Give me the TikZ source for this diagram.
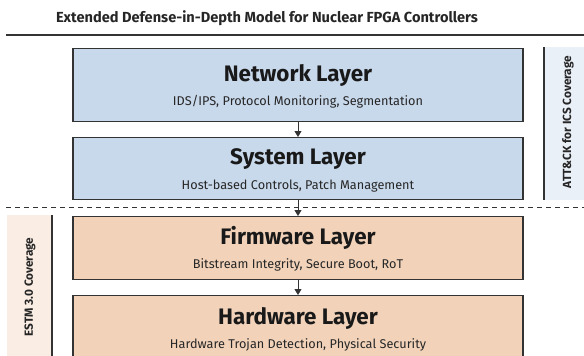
\documentclass[tikz,border=0pt]{standalone}
\usepackage{fontspec}
\setmainfont{Fira Sans}
\usetikzlibrary{arrows.meta}
\definecolor{bluefill}{HTML}{C9D9EC}
\definecolor{peachfill}{HTML}{F2D3BA}
\definecolor{edgegray}{HTML}{333333}
\definecolor{sideblue}{HTML}{EAF0F8}
\definecolor{sidepeach}{HTML}{FAEDE4}
\tikzset{
  layer/.style={draw=edgegray, line width=1.3pt, minimum width=450pt, anchor=north},
  bluelayer/.style={layer, fill=bluefill},
  peachlayer/.style={layer, fill=peachfill},
  ltitle/.style={font=\fontsize{22.4}{24}\selectfont\bfseries, text=black!90},
  lsub/.style={font=\fontsize{12.7}{14}\selectfont, text=black!85},
  flow/.style={draw=edgegray, line width=1pt, -{Triangle[length=6pt,width=7pt]}},
  sidelabel/.style={font=\fontsize{11.8}{13}\selectfont\bfseries, rotate=90, text=black!85},
}
\begin{document}
\begin{tikzpicture}[x=1pt,y=-1pt]
\useasboundingbox (0,0) rectangle (584,356);
\node[font=\fontsize{14.6}{16}\selectfont\bfseries, text=black!85] (title) at (267,18) {Extended Defense-in-Depth Model for Nuclear FPGA Controllers};
\draw[edgegray, line width=1.5pt] (6,35) coordinate (rl) -- (584,35) coordinate (rr);
% side bars
\fill[sideblue] (544,47) rectangle (590,200);
\draw[edgegray, line width=1.3pt] (544,47) coordinate (sbt) -- (544,200) coordinate (sbb);
\node[sidelabel] (att) at (568,122) {ATT\&CK for ICS Coverage};
\fill[sidepeach] (7,215) rectangle (52,362);
\draw[edgegray, line width=1.3pt] (52,215) coordinate (spt) -- (52,362) coordinate (spb);
\node[sidelabel] (estm) at (30,287) {ESTM 3.0 Coverage};
% dashed separator
\draw[edgegray, line width=0.8pt, dash pattern=on 5pt off 4pt] (6,207) coordinate (dl) -- (584,207) coordinate (dr);
% layers
\node[bluelayer, minimum height=73pt] (net) at (298,48) {};
\node[ltitle] at (298,75) {Network Layer};
\node[lsub] at (298,102) {IDS/IPS, Protocol Monitoring, Segmentation};
\node[bluelayer, minimum height=62pt] (sys) at (298,137) {};
\node[ltitle] at (298,159) {System Layer};
\node[lsub] at (298,186) {Host-based Controls, Patch Management};
\node[peachlayer, minimum height=63pt] (fw) at (298,216) {};
\node[ltitle] at (298,238) {Firmware Layer};
\node[lsub] at (298,265) {Bitstream Integrity, Secure Boot, RoT};
\node[peachlayer, minimum height=73pt] (hw) at (298,295) {};
\node[ltitle] at (298,318) {Hardware Layer};
\node[lsub] at (298,345) {Hardware Trojan Detection, Physical Security};
% arrows
\draw[flow] (net.south) -- (sys.north);
\draw[flow] (sys.south) -- (fw.north);
\draw[flow] (fw.south) -- (hw.north);
\end{tikzpicture}
\end{document}
